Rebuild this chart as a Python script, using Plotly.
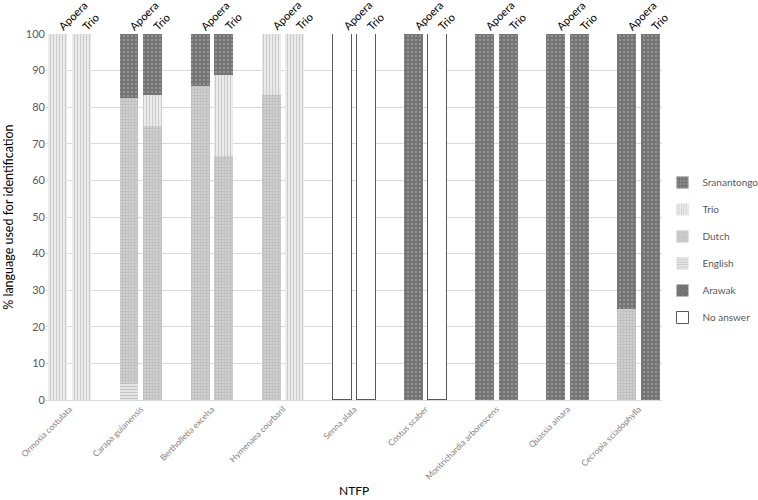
import plotly.graph_objects as go

# Species (NTFP) and the two villages
species = ["Ormosia costulata", "Carapa guianensis", "Bertholletia excelsa",
           "Hymenaea courbaril", "Senna alata", "Costus scaber",
           "Montrichardia arborescens", "Quassia amara", "Cecropia sciadophylla"]
villages = ["Apoera", "Trio"]

# % language used, Apoera
apoera_no_answer = [0, 0, 0, 0, 100, 0, 0, 0, 0]
apoera_arawak = [0, 0, 0, 0, 0, 0, 0, 0, 0]
apoera_english = [0, 4.3, 0, 0, 0, 0, 0, 0, 0]
apoera_dutch = [0, 78.3, 85.7, 83.3, 0, 0, 0, 0, 25]
apoera_trio = [100, 0, 0, 16.7, 0, 0, 0, 0, 0]
apoera_sranantongo = [0, 17.4, 14.3, 0, 0, 100, 100, 100, 75]

# % language used, Trio
trio_no_answer = [0, 0, 0, 0, 100, 100, 0, 0, 0]
trio_arawak = [0, 0, 0, 0, 0, 0, 0, 0, 0]
trio_english = [0, 0, 0, 0, 0, 0, 0, 0, 0]
trio_dutch = [0, 75, 66.7, 0, 0, 0, 0, 0, 0]
trio_trio = [100, 8.3, 22.2, 100, 0, 0, 0, 0, 0]
trio_sranantongo = [0, 16.7, 11.1, 0, 0, 0, 100, 100, 100]

# each species takes three slots: Apoera, Trio, empty gap
x_apoera = [3 * i for i in range(len(species))]
x_trio = [3 * i + 1 for i in range(len(species))]
x_all = x_apoera + x_trio

series = [
    ("No answer", apoera_no_answer, trio_no_answer,
     dict(color="white", line=dict(color="#595959", width=1))),
    ("Arawak", apoera_arawak, trio_arawak,
     dict(color="#6e6e6e", pattern=dict(shape="x", fgcolor="#b0b0b0", size=4, solidity=0.3))),
    ("English", apoera_english, trio_english,
     dict(color="#f0f0f0", pattern=dict(shape="-", fgcolor="#999999", size=3, solidity=0.5))),
    ("Dutch", apoera_dutch, trio_dutch,
     dict(color="#d6d6d6", pattern=dict(shape=".", fgcolor="#a0a0a0", size=3, solidity=0.5))),
    ("Trio", apoera_trio, trio_trio,
     dict(color="#f4f4f4", pattern=dict(shape="|", fgcolor="#a3a3a3", size=3, solidity=0.5))),
    ("Sranantongo", apoera_sranantongo, trio_sranantongo,
     dict(color="#757575", pattern=dict(shape=".", fgcolor="#c4c4c4", size=4, solidity=0.2))),
]

fig = go.Figure()
for rank, (name, a_vals, t_vals, marker) in enumerate(series):
    m = dict(marker)
    if "line" not in m:
        m["line"] = dict(width=0)
    fig.add_trace(go.Bar(x=x_all, y=a_vals + t_vals, name=name, marker=m,
                         width=0.8, legendgroup=name, legendrank=100 - rank))

# village labels above each bar (rotated, starting at the bar's left side)
for pos, label in zip(x_all, [villages[0]] * len(x_apoera) + [villages[1]] * len(x_trio)):
    fig.add_annotation(x=pos, y=100, xref="x", yref="y", text=label,
                       showarrow=False, textangle=-45, xanchor="left", yanchor="bottom",
                       xshift=-5, yshift=-1, font=dict(size=11, color="#000"))

# axis titles
fig.add_annotation(x=0.5, y=-0.246, xref="paper", yref="paper", text="NTFP",
                   showarrow=False, yanchor="middle", font=dict(size=12, color="#000"))
fig.add_annotation(x=-0.062, y=0.5, xref="paper", yref="paper",
                   text="% language used for identification", textangle=-90,
                   showarrow=False, xanchor="center", font=dict(size=12.5, color="#000"))

font = "Lato, 'Open Sans', sans-serif"
grey = "#595959"

fig.update_layout(
    width=758, height=500,
    barmode="stack",
    plot_bgcolor="white", paper_bgcolor="white",
    margin=dict(l=46, r=83, t=34, b=100),
    font=dict(family=font, color=grey),
    xaxis=dict(range=[-0.5, 25.5], automargin=False,
               tickvals=[3 * i + 0.5 for i in range(len(species))],
               ticktext=species, tickangle=-45,
               tickfont=dict(size=8.5, color="#7f7f7f"),
               showgrid=False, showline=True, linecolor="#d9d9d9", ticks=""),
    yaxis=dict(range=[0, 100], dtick=10, gridcolor="#d9d9d9", zeroline=False,
               automargin=False, tickfont=dict(size=11, color=grey)),
    legend=dict(xref="container", yref="container", x=0.874, y=0.5,
                xanchor="left", yanchor="middle",
                traceorder="grouped", tracegroupgap=8,
                itemwidth=30, font=dict(size=10, color=grey)),
    bargap=0,
)

# drop the page's default body margin so the figure sits at the window corner
fig.write_html("out.html", config={"displayModeBar": False},
               post_script="document.body.style.margin='0';")
